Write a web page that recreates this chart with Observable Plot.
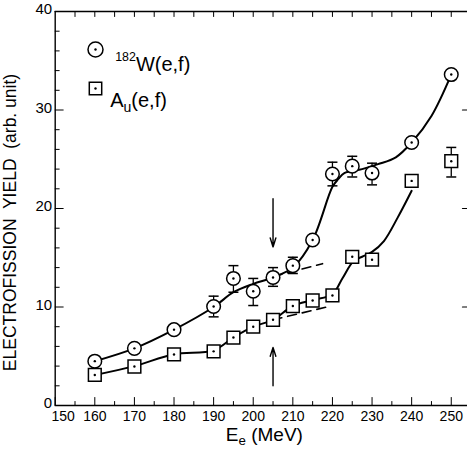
<!DOCTYPE html>
<html><head><meta charset="utf-8">
<script src="https://cdn.jsdelivr.net/npm/d3@7"></script>
<script src="https://cdn.jsdelivr.net/npm/@observablehq/plot@0.6"></script>
<style>body{margin:0;background:#fff}</style>
</head><body><div id="chart"></div>
<script>
// ---- data ----
const energies = [160,170,180,190,195,200,205,210,215,220,225,230,240,250];
const yieldW  = [4.5,5.8,7.7,10.05,12.9,11.6,13.0,14.2,16.8,23.5,24.3,23.6,26.7,33.6];
const yieldAu = [3.1,3.96,5.18,5.5,6.9,8.0,8.7,10.1,10.66,11.17,15.1,14.8,22.8,24.8];

const errEW  = [190,195,200,205,210,220,225,230];
const errLoW = [9.0,11.5,10.15,12.1,13.4,22.3,23.2,22.4];
const errHiW = [11.1,14.2,12.9,14.0,15.05,24.7,25.3,24.6];
const errEAu  = [250];
const errLoAu = [23.2];
const errHiAu = [26.2];

// smooth fitted curves
const fitEW = [160,170,180,190,195,200,205,210,215,220,221.5,223,227.5,231.5,236,240,245,250];
const fitW  = [4.5,5.8,7.7,10.0,11.5,12.35,13.0,14.0,16.8,22.2,23.0,23.6,24.0,24.5,25.2,26.7,29.4,33.6];
const fitEAu = [160,170,180,190,195,200,205,210,215,220,222.5,225.4,227.5,230,233,236.5,240];
const fitAu  = [3.1,4.0,5.2,5.6,6.9,8.0,8.7,10.1,10.7,11.3,12.9,14.7,15.1,15.6,16.7,19.1,21.8];

// dashed extrapolations
const dashEW = [205,217.5];
const dashW  = [13.1,14.4];
const dashEAu = [205,218.6];
const dashAu  = [8.7,10.0];

// arrows at 205 MeV
const arrowE    = [205,205];
const arrowFrom = [21.0,2.0];
const arrowTo   = [16.1,5.9];

// axes
const xDomain = [150,254.1];
const yDomain = [0,40];
const xTickLabels = [150,160,170,180,190,200,210,220,230,240,250];
const xMinor = [155,165,175,185,195,205,215,225,235,245];
const xTop = [155,160,165,170,175,180,185,190,195,200,205,210,215,220,225,230,235,240,245,250];
const yTickLabels = [0,10,20,30,40];
const yMinor = [2,4,6,8,12,14,16,18,22,24,26,28,32,34,36,38];
const yRight = [10,20,30];

const xTitle = "Ee (MeV)";
const yTitle = "ELECTROFISSION  YIELD  (arb. unit)";
const legendLabels = ["182W(e,f)","Au(e,f)"];

const idx = energies.map((d,i)=>i);
const tickShape = {draw(context, l){ context.moveTo(0,0); context.lineTo(0,-l); }};
const hbar = {draw(context, size){ context.moveTo(-5,0); context.lineTo(5,0); }};
const K = "black";

const plot = Plot.plot({
  width: 467, height: 451,
  marginLeft: 54.7, marginRight: 0, marginTop: 11, marginBottom: 46,
  style: {fontFamily: "'Liberation Sans', Arial, sans-serif", fontSize: "14px", color: "black", background: "white"},
  x: {domain: xDomain, axis: null},
  y: {domain: yDomain, axis: null},
  marks: [
    // frame (right edge lies beyond the picture)
    Plot.ruleY(yDomain, {stroke: K, strokeWidth: 1.4}),
    Plot.ruleX([xDomain[0]], {stroke: K, strokeWidth: 1.4}),
    // inward ticks
    Plot.vector(xTickLabels, {x: d=>d, frameAnchor: "bottom", length: 8, anchor: "start", shape: tickShape, stroke: K, strokeWidth: 1}),
    Plot.vector(xMinor, {x: d=>d, frameAnchor: "bottom", length: 4, anchor: "start", shape: tickShape, stroke: K, strokeWidth: 1}),
    Plot.vector(xTop, {x: d=>d, frameAnchor: "top", length: 5, rotate: 180, anchor: "start", shape: tickShape, stroke: K, strokeWidth: 1}),
    Plot.vector(yTickLabels, {y: d=>d, frameAnchor: "left", length: 8, rotate: 90, anchor: "start", shape: tickShape, stroke: K, strokeWidth: 1}),
    Plot.vector(yMinor, {y: d=>d, frameAnchor: "left", length: 4, rotate: 90, anchor: "start", shape: tickShape, stroke: K, strokeWidth: 1}),
    Plot.vector(yRight, {y: d=>d, frameAnchor: "right", length: 5, rotate: -90, anchor: "start", shape: tickShape, stroke: K, strokeWidth: 1.2}),
    // tick labels (the "150" sits a little right of its tick, clear of the y axis)
    Plot.axisX(xTickLabels.slice(0,1), {anchor: "bottom", tickSize: 0, tickPadding: 6, label: null, fontSize: 14, dx: 8}),
    Plot.axisX(xTickLabels.slice(1), {anchor: "bottom", tickSize: 0, tickPadding: 6, label: null, fontSize: 14}),
    Plot.axisY(yTickLabels, {anchor: "left", tickSize: 0, tickPadding: 3, label: null, fontSize: 15, dy: -2}),
    // axis titles
    Plot.text([xTitle], {frameAnchor: "bottom", dx: 3, dy: 35, fontSize: 19}),
    Plot.text([yTitle], {frameAnchor: "left", textAnchor: "middle", rotate: -90, dx: -45, dy: 14, fontSize: 17.5}),
    // fitted curves
    Plot.line(fitEW, {x: fitEW, y: fitW, curve: "catmull-rom", stroke: K, strokeWidth: 2}),
    Plot.line(fitEAu, {x: fitEAu, y: fitAu, curve: "catmull-rom", stroke: K, strokeWidth: 2}),
    Plot.line(dashEW, {x: dashEW, y: dashW, stroke: K, strokeWidth: 1.6, strokeDasharray: "9,6"}),
    Plot.line(dashEAu, {x: dashEAu, y: dashAu, stroke: K, strokeWidth: 1.6, strokeDasharray: "9,6"}),
    // arrows
    Plot.arrow(arrowE, {x1: arrowE, x2: arrowE, y1: arrowFrom, y2: arrowTo, stroke: K, strokeWidth: 1.4, headLength: 10, headAngle: 35}),
    // error bars
    Plot.ruleX(errEW, {x: errEW, y1: errLoW, y2: errHiW, stroke: K, strokeWidth: 1.3}),
    Plot.dot(errEW, {x: errEW, y: errLoW, symbol: hbar, stroke: K, strokeWidth: 1.5}),
    Plot.dot(errEW, {x: errEW, y: errHiW, symbol: hbar, stroke: K, strokeWidth: 1.5}),
    Plot.ruleX(errEAu, {x: errEAu, y1: errLoAu, y2: errHiAu, stroke: K, strokeWidth: 1.3}),
    Plot.dot(errEAu, {x: errEAu, y: errLoAu, symbol: hbar, stroke: K, strokeWidth: 1.5}),
    Plot.dot(errEAu, {x: errEAu, y: errHiAu, symbol: hbar, stroke: K, strokeWidth: 1.5}),
    // markers
    Plot.dot(idx, {x: i=>energies[i], y: i=>yieldW[i], r: 6.8, fill: "white", stroke: K, strokeWidth: 1.5}),
    Plot.dot(idx, {x: i=>energies[i], y: i=>yieldW[i], r: 1.2, fill: K}),
    Plot.dot(idx, {x: i=>energies[i], y: i=>yieldAu[i], r: 7.2, symbol: "square", fill: "white", stroke: K, strokeWidth: 1.5}),
    Plot.dot(idx, {x: i=>energies[i], y: i=>yieldAu[i], r: 1.2, fill: K}),
    // legend (inside the frame)
    Plot.dot([legendLabels[0]], {frameAnchor: "top-left", dx: 40.3, dy: 38, r: 7.5, fill: "white", stroke: K, strokeWidth: 1.5}),
    Plot.dot([legendLabels[0]], {frameAnchor: "top-left", dx: 40.3, dy: 38, r: 1.2, fill: K}),
    Plot.dot([legendLabels[1]], {frameAnchor: "top-left", dx: 40.3, dy: 77, r: 7, symbol: "square", fill: "white", stroke: K, strokeWidth: 1.5}),
    Plot.dot([legendLabels[1]], {frameAnchor: "top-left", dx: 40.3, dy: 77, r: 1.2, fill: K}),
    Plot.text([legendLabels[0]], {frameAnchor: "top-left", dx: 60, dy: 45, textAnchor: "start", fontSize: 20}),
    Plot.text([legendLabels[1]], {frameAnchor: "top-left", dx: 55, dy: 81, textAnchor: "start", fontSize: 20})
  ]
});

// sub/superscripts, applied to the texts Plot drew
function rich(str, parts) {
  d3.select(plot).selectAll("text").filter(function(){ return this.textContent === str; }).each(function() {
    const t = d3.select(this); t.text(null);
    for (const [s, kind] of parts) {
      const sp = t.append("tspan").text(s);
      if (kind === "sup") sp.attr("font-size", "0.62em").attr("dy", "-0.75em");
      if (kind === "base-after-sup") sp.attr("dy", "0.465em");
      if (kind === "sub") sp.attr("font-size", "0.7em").attr("dy", "0.35em");
      if (kind === "base-after-sub") sp.attr("dy", "-0.245em");
    }
  });
}
rich(xTitle, [["E"], ["e","sub"], [" (MeV)","base-after-sub"]]);
rich(legendLabels[0], [["182","sup"], ["W(e,f)","base-after-sup"]]);
rich(legendLabels[1], [["A"], ["u","sub"], ["(e,f)","base-after-sub"]]);

document.getElementById("chart").append(plot);
</script>
</body></html>
